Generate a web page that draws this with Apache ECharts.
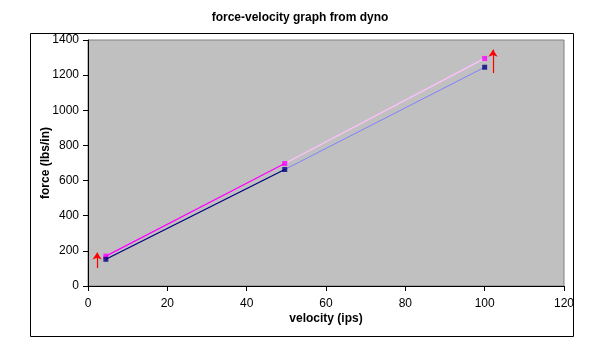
<!DOCTYPE html>
<html><head><meta charset="utf-8">
<script src="https://cdn.jsdelivr.net/npm/echarts@6/dist/echarts.min.js"></script>
<style>html,body{margin:0;padding:0;background:#fff}#c{width:600px;height:357px}</style>
</head><body><div id="c"></div>
<script>
const velocity = [4.5, 49.6, 100];
const forceA = [170, 697, 1295];   // magenta series
const forceB = [152, 663, 1245];   // navy series
const xTicks = [0, 20, 40, 60, 80, 100, 120];
const yTicks = [0, 200, 400, 600, 800, 1000, 1200, 1400];
const arrowRight = [[102.1, 1212], [102.1, 1345]];
const arrowLeft = [[2.3, 102], [2.3, 190]];

const pts = (xs, ys) => xs.map((x, i) => [x, ys[i]]);
const A = pts(velocity, forceA), B = pts(velocity, forceB);
const font = 'Liberation Sans, Arial, sans-serif';

const chart = echarts.init(document.getElementById('c'));
chart.setOption({
  animation: false,
  title: { text: 'force-velocity graph from dyno', left: 'center', top: 7,
    textStyle: { fontFamily: font, fontSize: 12, fontWeight: 'bold', color: '#000' } },
  graphic: [{ type: 'rect', shape: { x: 30.5, y: 33.5, width: 543, height: 303 },
    style: { fill: 'none', stroke: '#000', lineWidth: 1 }, z: -1 }],
  grid: { left: 88, right: 36, top: 40, bottom: 71, show: true,
    backgroundColor: '#c0c0c0', borderColor: '#808080', borderWidth: 1 },
  xAxis: { type: 'value', min: xTicks[0], max: xTicks[xTicks.length - 1], interval: 20,
    name: 'velocity (ips)', nameLocation: 'middle', nameGap: 27, nameMoveOverlap: false,
    nameTextStyle: { fontFamily: font, fontSize: 12, fontWeight: 'bold', color: '#000' },
    axisLine: { show: true, lineStyle: { color: '#000' } },
    axisTick: { show: true, length: 5, lineStyle: { color: '#000' } },
    axisLabel: { fontFamily: font, fontSize: 12, color: '#000', margin: 12,
      formatter: v => String(v) },
    splitLine: { show: false } },
  yAxis: { type: 'value', min: yTicks[0], max: yTicks[yTicks.length - 1], interval: 200,
    name: 'force (lbs/in)', nameLocation: 'middle', nameGap: 36, nameMoveOverlap: false,
    nameTextStyle: { fontFamily: font, fontSize: 12, fontWeight: 'bold', color: '#000' },
    axisLine: { show: true, lineStyle: { color: '#000' } },
    axisTick: { show: true, length: 5, lineStyle: { color: '#000' } },
    axisLabel: { fontFamily: font, fontSize: 12, color: '#000', margin: 9,
      formatter: v => String(v) },
    splitLine: { show: false } },
  series: [
    { type: 'line', data: A.slice(0, 2), showSymbol: false, lineStyle: { color: '#ff00ff', width: 1.3 }, z: 2 },
    { type: 'line', data: A.slice(1), showSymbol: false, lineStyle: { color: '#ffc0ff', width: 1.3 }, z: 2 },
    { type: 'line', data: B.slice(0, 2), showSymbol: false, lineStyle: { color: '#000080', width: 1.3 }, z: 2 },
    { type: 'line', data: B.slice(1), showSymbol: false, lineStyle: { color: '#8080ff', width: 1 }, z: 2 },
    { type: 'scatter', data: A, symbol: 'rect', symbolSize: 5, itemStyle: { color: '#ff00ff' }, z: 3 },
    { type: 'scatter', data: B, symbol: 'rect', symbolSize: 5, itemStyle: { color: '#000080' }, z: 3,
      markLine: { silent: true, symbol: ['none', 'arrow'], symbolSize: [7, 7], label: { show: false },
        lineStyle: { color: '#ff0000', width: 1.2, type: 'solid' },
        data: [ [{ coord: arrowRight[0] }, { coord: arrowRight[1] }],
                [{ coord: arrowLeft[0] }, { coord: arrowLeft[1] }] ] } }
  ]
});
</script></body></html>
